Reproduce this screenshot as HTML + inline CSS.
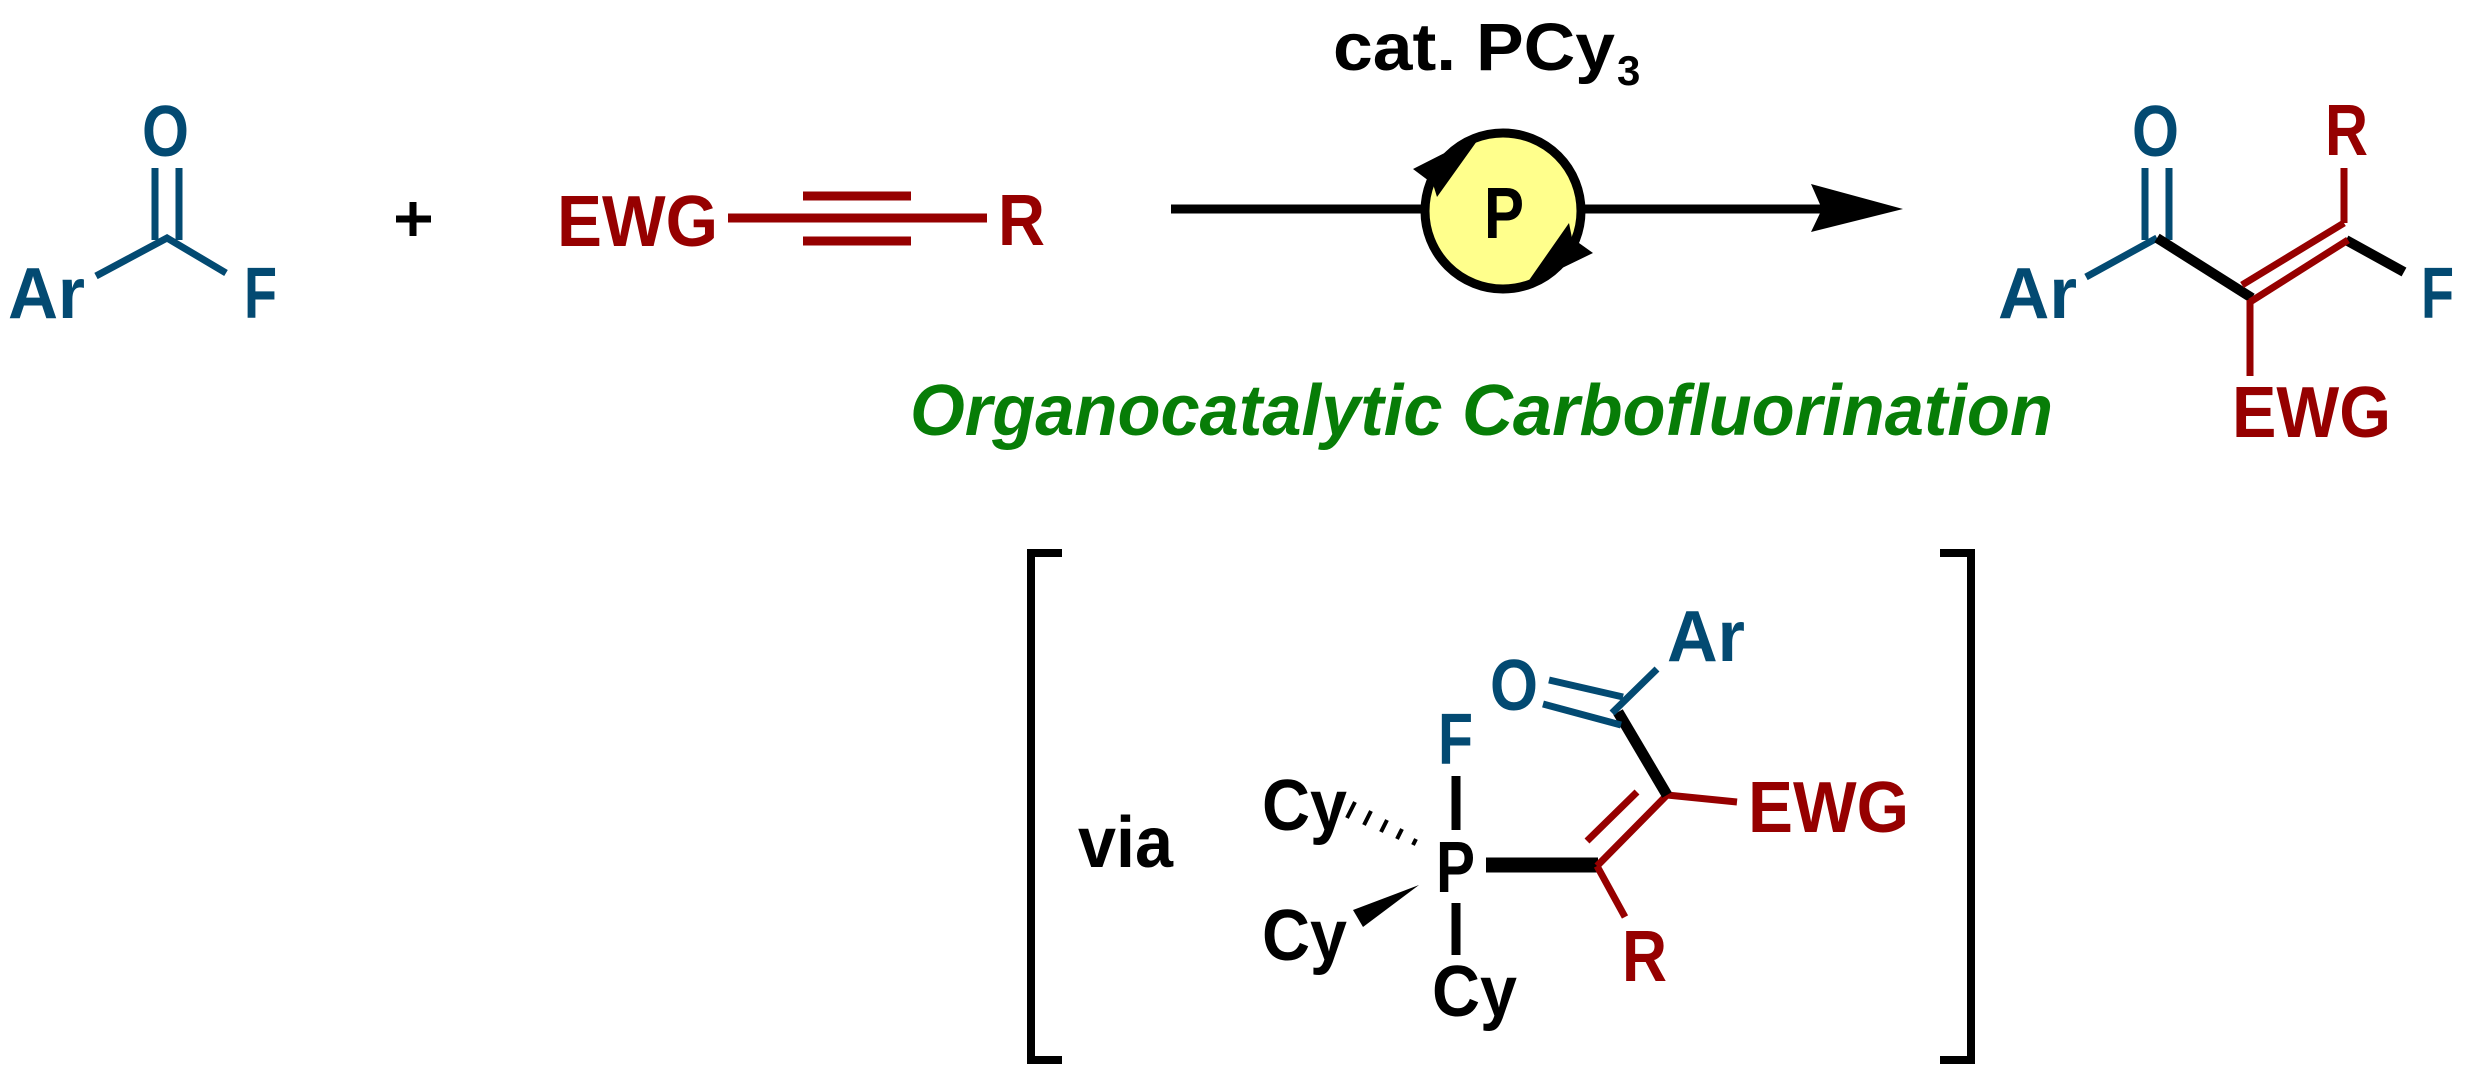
<!DOCTYPE html>
<html><head><meta charset="utf-8"><style>
html,body{margin:0;padding:0;background:#fff;}
svg{display:block;}
text{font-family:"Liberation Sans",Arial,sans-serif;font-weight:bold;}
</style></head><body>
<svg width="2468" height="1073" viewBox="0 0 2468 1073" xmlns="http://www.w3.org/2000/svg">
<g font-size="72">
<!-- reactant 1 -->
<g stroke="#034a72" stroke-width="7" fill="none">
<line x1="155" y1="168" x2="155" y2="240"/>
<line x1="179" y1="168" x2="179" y2="240"/>
<polyline points="96,276 167,238 226,273"/>
</g>
<text x="8" y="318" fill="#034a72" textLength="77" lengthAdjust="spacingAndGlyphs">Ar</text>
<text x="142" y="156" fill="#034a72" textLength="47" lengthAdjust="spacingAndGlyphs">O</text>
<text x="244" y="318" fill="#034a72" textLength="33" lengthAdjust="spacingAndGlyphs">F</text>
<!-- plus -->
<g stroke="#000" stroke-width="7"><line x1="396" y1="219" x2="431" y2="219"/><line x1="413" y1="202" x2="413" y2="236"/></g>
<!-- alkyne -->
<g stroke="#960000" stroke-width="9">
<line x1="728" y1="218" x2="987" y2="218"/>
<line x1="803" y1="196" x2="911" y2="196"/>
<line x1="803" y1="241" x2="911" y2="241"/>
</g>
<text x="557" y="246" fill="#960000" textLength="161" lengthAdjust="spacingAndGlyphs">EWG</text>
<text x="998" y="245" fill="#960000" textLength="47" lengthAdjust="spacingAndGlyphs">R</text>
<!-- arrow -->
<text x="1333" y="70" font-size="67" fill="#000" textLength="282" lengthAdjust="spacingAndGlyphs">cat. PCy</text>
<text x="1617" y="85" font-size="42" fill="#000">3</text>
<line x1="1171" y1="209" x2="1822" y2="209" stroke="#000" stroke-width="9"/>
<polygon points="1903,209 1811,184 1822,209 1811,232" fill="#000"/>
<circle cx="1503" cy="211" r="78" fill="#ffff8c" stroke="#000" stroke-width="9"/>
<polygon points="1413,169 1482,134 1437,197 1433,184" fill="#000"/>
<polygon points="1593,253 1525,286 1569,223 1572,238" fill="#000"/>
<text x="1484" y="238" fill="#000" textLength="40" lengthAdjust="spacingAndGlyphs">P</text>
<text x="910" y="435" fill="#077d07" font-style="italic" textLength="1143" lengthAdjust="spacingAndGlyphs">Organocatalytic Carbofluorination</text>
<!-- product -->
<g stroke="#034a72" stroke-width="7" fill="none">
<line x1="2145" y1="168" x2="2145" y2="240"/>
<line x1="2169" y1="168" x2="2169" y2="240"/>
<line x1="2157" y1="238" x2="2086" y2="277"/>
</g>
<g stroke="#000" stroke-width="10" fill="none">
<line x1="2157" y1="238" x2="2252" y2="298"/>
<line x1="2346" y1="240" x2="2404" y2="272"/>
</g>
<g stroke="#960000" stroke-width="7" fill="none">
<line x1="2250" y1="302" x2="2348" y2="240"/>
<line x1="2242" y1="285" x2="2344" y2="223"/>
<line x1="2344" y1="168" x2="2344" y2="223"/>
<line x1="2250" y1="300" x2="2250" y2="376"/>
</g>
<text x="2132" y="156" fill="#034a72" textLength="47" lengthAdjust="spacingAndGlyphs">O</text>
<text x="1998" y="318" fill="#034a72" textLength="79" lengthAdjust="spacingAndGlyphs">Ar</text>
<text x="2421" y="318" fill="#034a72" textLength="33" lengthAdjust="spacingAndGlyphs">F</text>
<text x="2325" y="155" fill="#960000" textLength="43" lengthAdjust="spacingAndGlyphs">R</text>
<text x="2232" y="437" fill="#960000" textLength="159" lengthAdjust="spacingAndGlyphs">EWG</text>
<!-- brackets -->
<g stroke="#000" stroke-width="8" fill="none">
<polyline points="1062,553 1031,553 1031,1060 1062,1060"/>
<polyline points="1940,553 1971,553 1971,1060 1940,1060"/>
</g>
<text x="1078" y="867" fill="#000" textLength="95" lengthAdjust="spacingAndGlyphs">via</text>
<text x="1262" y="830" fill="#000" textLength="85" lengthAdjust="spacingAndGlyphs">Cy</text>
<text x="1262" y="960" fill="#000" textLength="85" lengthAdjust="spacingAndGlyphs">Cy</text>
<text x="1432" y="1016" fill="#000" textLength="85" lengthAdjust="spacingAndGlyphs">Cy</text>
<text x="1438" y="764" fill="#034a72" textLength="35" lengthAdjust="spacingAndGlyphs">F</text>
<text x="1436" y="892" fill="#000" textLength="39" lengthAdjust="spacingAndGlyphs">P</text>
<g stroke="#000" stroke-width="9">
<line x1="1456" y1="776" x2="1456" y2="830"/>
<line x1="1456" y1="903" x2="1456" y2="955"/>
</g>
<g stroke="#000" stroke-width="4">
<line x1="1355" y1="802" x2="1347" y2="818"/>
<line x1="1371" y1="811" x2="1364" y2="825"/>
<line x1="1387" y1="820" x2="1381" y2="832"/>
<line x1="1402" y1="829" x2="1397" y2="839"/>
<line x1="1416" y1="839" x2="1413" y2="845"/>
</g>
<polygon points="1419,885 1353,910 1363,927" fill="#000"/>
<line x1="1486" y1="865" x2="1598" y2="865" stroke="#000" stroke-width="15"/>
<g stroke="#960000" stroke-width="7" fill="none">
<line x1="1597" y1="866" x2="1667" y2="795"/>
<line x1="1587" y1="841" x2="1637" y2="792"/>
<line x1="1667" y1="795" x2="1737" y2="802"/>
<line x1="1597" y1="866" x2="1625" y2="917"/>
</g>
<line x1="1667" y1="795" x2="1618" y2="712" stroke="#000" stroke-width="11"/>
<g stroke="#034a72" stroke-width="7" fill="none">
<line x1="1623" y1="697" x2="1549" y2="680"/>
<line x1="1621" y1="725" x2="1543" y2="704"/>
<line x1="1612" y1="713" x2="1657" y2="669"/>
</g>
<text x="1748" y="832" fill="#960000" textLength="161" lengthAdjust="spacingAndGlyphs">EWG</text>
<text x="1667" y="661" fill="#034a72" textLength="78" lengthAdjust="spacingAndGlyphs">Ar</text>
<text x="1490" y="710" fill="#034a72" textLength="48" lengthAdjust="spacingAndGlyphs">O</text>
<text x="1622" y="981" fill="#960000" textLength="45" lengthAdjust="spacingAndGlyphs">R</text>
</g>
</svg>
</body></html>
